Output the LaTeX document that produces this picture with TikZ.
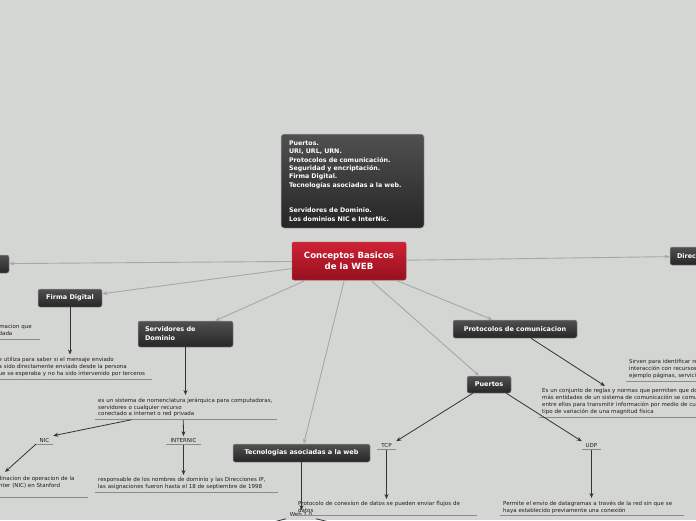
\documentclass[tikz,border=0pt]{standalone}
\usepackage{fontspec}
\setmainfont{DejaVu Sans}
\usetikzlibrary{arrows.meta, positioning, calc}
\definecolor{bgc}{RGB}{212,214,211}
\definecolor{boxtop}{RGB}{80,80,80}
\definecolor{boxbot}{RGB}{38,38,38}
\definecolor{redtop}{RGB}{206,34,52}
\definecolor{redbot}{RGB}{150,16,32}
\definecolor{linkc}{RGB}{166,168,165}
\definecolor{arrc}{RGB}{52,52,52}
\definecolor{ulc}{RGB}{138,140,138}
\definecolor{txtc}{RGB}{30,30,30}

\begin{document}
\begin{tikzpicture}[
    x=1pt, y=-1pt,
    topic/.style={rectangle, rounded corners=2pt, draw=black!40, line width=0.5pt,
        top color=boxtop, bottom color=boxbot, text=white,
        font=\bfseries\fontsize{6.5}{9}\selectfont, minimum height=18pt, inner sep=0pt},
    root/.style={rectangle, rounded corners=2pt, draw=redbot!80, line width=0.5pt,
        top color=redtop, bottom color=redbot, text=white, align=center,
        font=\bfseries\fontsize{8.6}{10.8}\selectfont,
        minimum width=114pt, minimum height=38pt, inner sep=0pt},
    memo/.style={rectangle, rounded corners=3pt, draw=black!30, line width=0.5pt,
        top color=boxtop, bottom color=boxbot, text=white, align=left,
        font=\bfseries\fontsize{6.3}{8.45}\selectfont,
        minimum width=143pt, minimum height=94pt, text width=127pt, inner sep=0pt},
    leaf/.style={anchor=north west, align=left, font=\fontsize{5.5}{6.9}\selectfont,
        text=txtc, inner xsep=3pt, inner ysep=2.5pt},
    tag/.style={font=\fontsize{5.5}{6}\selectfont, text=txtc, inner xsep=1pt, inner ysep=2pt},
    link/.style={draw=linkc, line width=0.9pt, -{Stealth[length=5pt,width=4pt]}},
    arr/.style={draw=arrc, line width=0.8pt, -{Stealth[length=5pt,width=4pt]}},
    uline/.style={draw=ulc, line width=0.8pt}
]
\useasboundingbox (0,0) rectangle (696,520);
\clip (0,0) rectangle (696,520);
\fill[bgc] (0,0) rectangle (696,520);

% main topics
\node[root] (cb) at (349,261) {Conceptos Basicos\\de la WEB};
\node[memo] (nt) at (352.5,181) {Puertos.\\URI, URL, URN.\\Protocolos de comunicación.\\Seguridad y encriptación.\\Firma Digital.\\Tecnologías asociadas a la web.\\[17pt]Servidores de Dominio.\\Los dominios NIC e InterNic.};
\node[topic, minimum width=110pt] (sg) at (-46,264) {Seguridad y encriptacion};
\node[topic, minimum width=90pt, text width=76pt, align=left] (di) at (715,256) {Direcciones IP};
\node[topic, minimum width=64pt] (fd) at (70,298) {Firma Digital};
\node[topic, minimum width=95pt, minimum height=26pt, text width=81pt, align=left] (sd) at (185.5,334) {Servidores de\\Dominio};
\node[topic, minimum width=137pt] (tw) at (301.5,453) {Tecnologias asociadas a la web};
\node[topic, minimum width=124pt] (pc) at (515,329) {Protocolos de comunicacion};
\node[topic, minimum width=44pt, minimum height=17pt] (pu) at (489,384.5) {Puertos};

% texts
\node[leaf, text width=80pt] (sgt) at (-46,322) {Protege la informacion que\\enviada o guardada};
\node[leaf, text width=154pt] (fdt) at (-8,354.5) {Se utiliza para saber si el mensaje enviado\\ha sido directamente enviado desde la persona\\que se esperaba y no ha sido intervenido por terceros};
\node[leaf, text width=176pt] (sdt) at (95,395) {es un sistema de nomenclatura jerárquica para computadoras,\\servidores o cualquier recurso\\conectado a internet o red privada};
\node[tag, minimum width=17pt] (nic) at (44.5,440) {NIC};
\node[tag, minimum width=35pt] (inn) at (183.5,440.5) {INTERNIC};
\node[leaf, text width=100pt] (nict) at (-18,474) {Coordinacion de operacion de la\\el Center (NIC) en Stanford\\~};
\node[leaf, text width=177pt] (innt) at (95,475) {responsable de los nombres de dominio y las Direcciones IP,\\las asignaciones fueron hasta el 18 de septiembre de 1998};
\node[tag, minimum width=30pt] (w2) at (301,514.5) {Web 2.0};
\node[tag, minimum width=19pt] (tcp) at (386.5,445.5) {TCP};
\node[tag, minimum width=19pt] (udp) at (591.5,445.5) {UDP};
\node[leaf, text width=176pt] (tcpt) at (295,499) {Protocolo de conexion de datos se pueden enviar flujos de\\datos};
\node[leaf, text width=178pt] (udpt) at (500,498) {Permite el envio de datagramas a través de la red sin que se\\haya establecido previamente una conexión};
\node[leaf, text width=230pt] (pct) at (539,386) {Es un conjunto de reglas y normas que permiten que dos o\\más entidades de un sistema de comunicación se comuniquen\\entre ellos para transmitir información por medio de cualquier\\tipo de variación de una magnitud física};
\node[leaf, text width=160pt] (uit) at (626,357) {Sirven para identificar recursos y permitir la\\interacción con recursos en la red, por\\ejemplo páginas, servicios, documentos};

% underlines
\foreach \t in {sgt,fdt,sdt,nic,inn,nict,innt,tcp,udp,tcpt,udpt,pct,uit}
    \draw[uline] (\t.south west) -- (\t.south east);

% links from the root
\foreach \t in {sg,di,fd,sd,tw,pc,pu}
    \draw[link] (cb) -- (\t);

% child arrows
\coordinate (w2l) at (250,528);
\coordinate (w2r) at (355,528);
\draw[arr] (fd.south) -- (fd.south |- fdt.north);
\draw[arr] (sd.south) -- (sd.south |- sdt.north);
\draw[arr] ($(sdt.south west)!0.2!(sdt.south east)$) -- (nic.north east);
\draw[arr] ($(sdt.south west)!0.484!(sdt.south east)$) -- (inn.north);
\draw[arr] (nic.south west) -- ($(nict.north west)+(23,-2)$);
\draw[arr] (inn.south) -- (inn.south |- innt.north);
\draw[arr] (tw.south) -- (tw.south |- w2.north);
\draw[arr] (w2.south west) -- (w2l);
\draw[arr] (w2.south east) -- (w2r);
\draw[arr] ($(pc.south)+(16,0)$) -- ($(pct.north west)+(66,0)$);
\draw[arr] ($(pu.south west)+(6,0)$) -- (tcp.north east);
\draw[arr] ($(pu.south east)+(-5,0)$) -- (udp.north west);
\draw[arr] (tcp.south) -- (tcp.south |- tcpt.north);
\draw[arr] (udp.south) -- (udp.south |- udpt.north);
\end{tikzpicture}
\end{document}
